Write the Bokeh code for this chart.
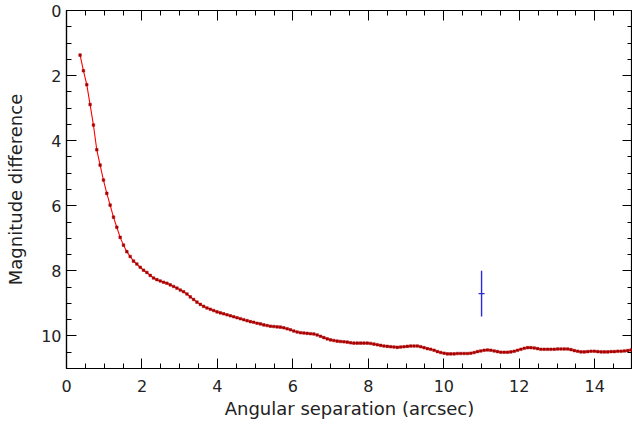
import numpy as np
from bokeh.plotting import figure
from bokeh.models import Range1d, LinearAxis, SingleIntervalTicker, ColumnDataSource
from bokeh.embed import file_html
from bokeh.resources import INLINE

# ---- data ----
sep_start = 0.36          # first separation sampled (arcsec)
sep_step = 0.0885         # sampling step (arcsec)
mag_diff = [
    1.37, 1.85, 2.28, 2.89, 3.52, 4.28, 4.75, 5.21, 5.62, 5.98,
    6.35, 6.66, 6.97, 7.21, 7.41, 7.56, 7.70, 7.79, 7.89, 7.98,
    8.05, 8.14, 8.22, 8.27, 8.31, 8.35, 8.38, 8.43, 8.48, 8.53,
    8.59, 8.64, 8.71, 8.80, 8.88, 8.96, 9.03, 9.09, 9.14, 9.18,
    9.22, 9.26, 9.29, 9.32, 9.35, 9.38, 9.41, 9.44, 9.47, 9.50,
    9.53, 9.56, 9.58, 9.61, 9.63, 9.66, 9.68, 9.70, 9.71, 9.72,
    9.73, 9.75, 9.78, 9.81, 9.85, 9.88, 9.90, 9.91, 9.92, 9.93,
    9.94, 9.97, 10.01, 10.05, 10.09, 10.12, 10.14, 10.16, 10.17, 10.18,
    10.19, 10.21, 10.22, 10.22, 10.22, 10.22, 10.22, 10.23, 10.25, 10.27,
    10.29, 10.31, 10.32, 10.33, 10.34, 10.35, 10.34, 10.33, 10.32, 10.31,
    10.31, 10.31, 10.33, 10.36, 10.39, 10.41, 10.44, 10.48, 10.51, 10.53,
    10.55, 10.55, 10.55, 10.54, 10.54, 10.54, 10.54, 10.53, 10.51, 10.48,
    10.46, 10.44, 10.43, 10.44, 10.46, 10.48, 10.50, 10.50, 10.50, 10.49,
    10.47, 10.44, 10.41, 10.38, 10.36, 10.36, 10.37, 10.39, 10.41, 10.41,
    10.41, 10.41, 10.41, 10.40, 10.40, 10.40, 10.40, 10.42, 10.45, 10.47,
    10.49, 10.49, 10.48, 10.47, 10.47, 10.48, 10.49, 10.49, 10.49, 10.48,
    10.48, 10.47, 10.47, 10.46, 10.45, 10.43,
]
separation = np.round(sep_start + sep_step * np.arange(len(mag_diff)), 4)

# companion measurement with error bar
comp_sep = [11.0]
comp_mag = [8.7]
comp_err = [0.7]

x_ticks_interval = 2
y_ticks_interval = 2

FONT = "DejaVu Sans"

p = figure(width=632, height=427, output_backend="svg", toolbar_location=None,
           x_range=Range1d(0, 15), y_range=Range1d(11, 0),
           min_border_left=66, min_border_right=0, min_border_top=10, min_border_bottom=59)
p.xgrid.visible = False
p.ygrid.visible = False
p.outline_line_color = "black"
p.outline_line_width = 1.2
p.background_fill_color = "white"
p.border_fill_color = "white"

def style_axis(ax, interval, show_labels):
    ax.ticker = SingleIntervalTicker(interval=interval, num_minor_ticks=4)
    ax.major_tick_in = 10
    ax.major_tick_out = 0
    ax.minor_tick_in = 5
    ax.minor_tick_out = 0
    ax.axis_line_color = "black"
    ax.axis_line_width = 1.2
    ax.major_tick_line_color = "black"
    ax.minor_tick_line_color = "black"
    if show_labels:
        ax.major_label_text_font = FONT
        ax.major_label_text_font_size = "16px"
        ax.major_label_text_color = "#222222"
        ax.axis_label_text_font = FONT
        ax.axis_label_text_font_size = "18px"
        ax.axis_label_text_font_style = "normal"
        ax.axis_label_text_color = "#222222"
    else:
        ax.major_label_text_color = None
        ax.major_label_text_font_size = "0px"
        ax.major_label_standoff = 0
        ax.axis_label_standoff = 0

xa = p.xaxis[0]
ya = p.yaxis[0]
style_axis(xa, x_ticks_interval, True)
style_axis(ya, y_ticks_interval, True)
xa.axis_label = "Angular separation (arcsec)"
ya.axis_label = "Magnitude difference"
xa.major_label_standoff = 11
xa.axis_label_standoff = 3
ya.major_label_standoff = 5
ya.axis_label_standoff = 12

top = LinearAxis()
style_axis(top, x_ticks_interval, False)
p.add_layout(top, "above")
right = LinearAxis()
style_axis(right, y_ticks_interval, False)
p.add_layout(right, "right")

src = ColumnDataSource(dict(x=separation, y=mag_diff))
p.line("x", "y", source=src, line_color="#ff0000", line_width=1.1)
p.scatter("x", "y", source=src, marker="square", size=2.6,
          fill_color="#a80000", line_color="#a80000", line_width=0.5)

lo = [m - e for m, e in zip(comp_mag, comp_err)]
hi = [m + e for m, e in zip(comp_mag, comp_err)]
p.segment(x0=comp_sep, y0=lo, x1=comp_sep, y1=hi, line_color="#2a2ad8", line_width=1.4)
p.scatter(x=comp_sep, y=comp_mag, marker="dash", size=6, line_color="#2a2ad8", line_width=1.4)

open("out.html", "w").write(file_html(p, INLINE))
